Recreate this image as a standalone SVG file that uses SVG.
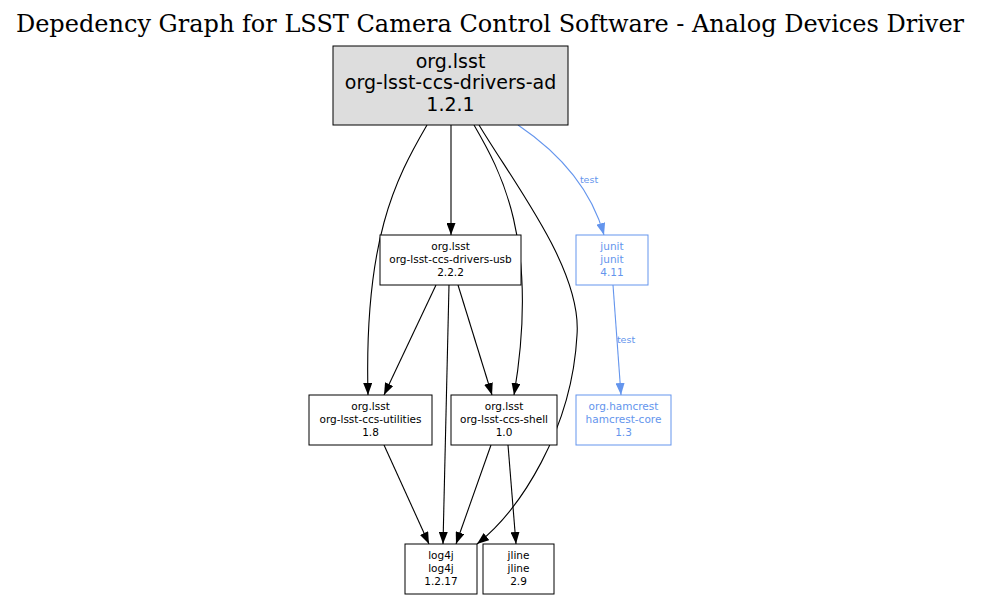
<svg xmlns="http://www.w3.org/2000/svg" width="981" height="600" viewBox="0 0 981 600">
<style>
.n rect{fill:#fff;stroke:#000;stroke-width:1}
.n text{font-family:"DejaVu Sans",sans-serif;font-size:10.5px;text-anchor:middle;fill:#000}
.b rect{stroke:#6495ED}
.b text{fill:#6495ED}
.e path{fill:none;stroke:#000;stroke-width:1.1}
.e .t{stroke:#6495ED}
.lbl{font-family:"DejaVu Sans",sans-serif;font-size:9.5px;fill:#6495ED;text-anchor:middle}
</style>
<defs>
<marker id="a" viewBox="0 0 12 9" refX="12" refY="4.5" markerWidth="12" markerHeight="9" markerUnits="userSpaceOnUse" orient="auto"><path d="M0,0 L12,4.5 L0,9 Z" fill="#000"/></marker>
<marker id="ab" viewBox="0 0 12 9" refX="12" refY="4.5" markerWidth="12" markerHeight="9" markerUnits="userSpaceOnUse" orient="auto"><path d="M0,0 L12,4.5 L0,9 Z" fill="#6495ED"/></marker>
</defs>
<rect width="981" height="600" fill="#fff"/>
<text x="490" y="32" font-family="DejaVu Serif,serif" font-size="24" text-anchor="middle">Depedency Graph for LSST Camera Control Software - Analog Devices Driver</text>
<g class="e">
<path d="M451,125 L451,235" marker-end="url(#a)"/>
<path d="M427,125 C395,180 364,240 368,395" marker-end="url(#a)"/>
<path d="M474,125 C500,170 540,240 514,395" marker-end="url(#a)"/>
<path d="M479,125 C515,185 582,270 577,335 C572,430 520,510 477,544" marker-end="url(#a)"/>
<path class="t" d="M518,125 C555,150 590,185 604,235" marker-end="url(#ab)"/>
<path d="M436,285 L384,395" marker-end="url(#a)"/>
<path d="M449,285 L443,544" marker-end="url(#a)"/>
<path d="M458,285 L492,395" marker-end="url(#a)"/>
<path d="M384,445 L429,544" marker-end="url(#a)"/>
<path d="M491,445 L456,544" marker-end="url(#a)"/>
<path d="M508,445 L516,544" marker-end="url(#a)"/>
<path class="t" d="M613,285 L621,395" marker-end="url(#ab)"/>
<text class="lbl" x="589" y="183">test</text>
<text class="lbl" x="626" y="343">test</text>
</g>
<g id="ad" class="n"><rect x="333" y="46" width="235" height="79" style="fill:#dddddd"/><text x="450.5" y="68" style="font-size:19px">org.lsst</text><text x="450.5" y="89" style="font-size:19px">org-lsst-ccs-drivers-ad</text><text x="450.5" y="110.5" style="font-size:19px">1.2.1</text></g>
<g id="usb" class="n"><rect x="380" y="235" width="141" height="50"/><text x="450.5" y="250">org.lsst</text><text x="450.5" y="263">org-lsst-ccs-drivers-usb</text><text x="450.5" y="276">2.2.2</text></g>
<g id="junit" class="n b"><rect x="576" y="235" width="72" height="50"/><text x="612" y="250">junit</text><text x="612" y="263">junit</text><text x="612" y="276">4.11</text></g>
<g id="utilities" class="n"><rect x="309" y="395" width="123" height="50"/><text x="370.5" y="410">org.lsst</text><text x="370.5" y="423">org-lsst-ccs-utilities</text><text x="370.5" y="436">1.8</text></g>
<g id="shell" class="n"><rect x="451" y="395" width="106" height="50"/><text x="504" y="410">org.lsst</text><text x="504" y="423">org-lsst-ccs-shell</text><text x="504" y="436">1.0</text></g>
<g id="hamcrest" class="n b"><rect x="576" y="395" width="95" height="50"/><text x="623.5" y="410">org.hamcrest</text><text x="623.5" y="423">hamcrest-core</text><text x="623.5" y="436">1.3</text></g>
<g id="log4j" class="n"><rect x="405" y="544" width="72" height="50"/><text x="441" y="559">log4j</text><text x="441" y="572">log4j</text><text x="441" y="585">1.2.17</text></g>
<g id="jline" class="n"><rect x="483" y="544" width="71" height="50"/><text x="518.5" y="559">jline</text><text x="518.5" y="572">jline</text><text x="518.5" y="585">2.9</text></g>
</svg>
